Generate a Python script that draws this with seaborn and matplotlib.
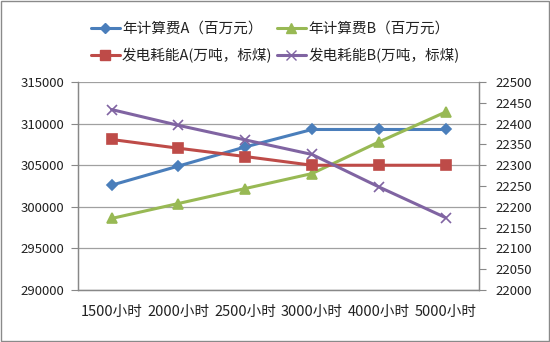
import matplotlib
matplotlib.use("Agg")
import matplotlib.pyplot as plt
import seaborn as sns
from matplotlib.lines import Line2D
from matplotlib.patches import Rectangle
from matplotlib.ticker import FixedLocator, MultipleLocator

sns.set_theme(style="white")
plt.rcParams["font.family"] = ["Noto Sans CJK SC", "DejaVu Sans"]

hours = ["1500小时", "2000小时", "2500小时", "3000小时", "4000小时", "5000小时"]

# annual cost (left axis)
cost_a = [302600, 304900, 307200, 309300, 309300, 309300]
cost_b = [298600, 300400, 302200, 304000, 307800, 311400]

# generation coal consumption (right axis)
coal_a = [22362, 22341, 22321, 22300, 22300, 22300]
coal_b = [22434, 22396, 22361, 22326, 22248, 22174]

labels = ["年计算费A（百万元）", "年计算费B（百万元）",
          "发电耗能A(万吨，标煤)", "发电耗能B(万吨，标煤)"]
colors = ["#4A7EBB", "#98B954", "#BE4B48", "#8064A2"]
markers = ["D", "^", "s", "x"]
msizes = [5.5, 7.5, 7.5, 7.5]

fig = plt.figure(figsize=(5.5, 3.42), dpi=100)
ax1 = fig.add_axes([0.142, 0.152, 0.729, 0.608])
ax2 = ax1.twinx()

series = [(ax1, cost_a), (ax1, cost_b), (ax2, coal_a), (ax2, coal_b)]
for (ax, vals), lab, c, m, ms in zip(series, labels, colors, markers, msizes):
    sns.lineplot(x=hours, y=vals, ax=ax, color=c, marker=m, markersize=ms,
                 markeredgecolor=c, markerfacecolor=c, markeredgewidth=1.2,
                 linewidth=2.2, sort=False, legend=False)

ax1.set_xlim(-0.5, 5.5)
ax1.set_ylim(290000, 315000)
ax1.yaxis.set_major_locator(MultipleLocator(5000))
ax2.set_ylim(22000, 22500)
ax2.yaxis.set_major_locator(MultipleLocator(50))

ax1.set_xticks(range(len(hours)))
ax1.set_xticklabels(hours)
ax1.xaxis.set_minor_locator(FixedLocator([i - 0.5 for i in range(len(hours) + 1)]))
ax1.tick_params(axis="x", which="major", length=0, pad=11, labelsize=10.5, colors="#222222")
ax1.tick_params(axis="x", which="minor", length=4, width=0.8, color="#888888", direction="out")
ax1.tick_params(axis="y", length=5, width=0.8, color="#888888", pad=5,
                labelsize=9.5, labelcolor="#222222", left=True, direction="out")
ax2.tick_params(axis="y", length=5, width=0.8, color="#888888", pad=7,
                labelsize=9.5, labelcolor="#222222", right=True, direction="out")

ax1.grid(axis="y", color="#a0a0a0", linewidth=0.9)
ax1.grid(axis="x", visible=False)
ax2.grid(False)
ax1.set_xlabel("")
ax1.set_ylabel("")
ax2.set_ylabel("")

for ax in (ax1, ax2):
    ax.spines["top"].set_visible(False)
    for s in ("left", "right", "bottom"):
        ax.spines[s].set_color("#888888")
        ax.spines[s].set_linewidth(0.9)

ax1.set_zorder(ax2.get_zorder() - 1)
ax2.patch.set_visible(False)

handles = []
order = [0, 2, 1, 3]
for i in order:
    handles.append(Line2D([], [], color=colors[i], marker=markers[i], markersize=msizes[i],
                          markerfacecolor=colors[i], markeredgecolor=colors[i],
                          linewidth=2.2, label=labels[i]))
fig.legend(handles=handles, loc="upper center", bbox_to_anchor=(0.5, 0.975), ncol=2,
           frameon=False, fontsize=10.5, handlelength=2.0, handletextpad=0.15,
           columnspacing=0.3, labelspacing=0.85, labelcolor="#222222")

fig.patches.append(Rectangle((0.002, 0.003), 0.996, 0.994, transform=fig.transFigure,
                             fill=False, edgecolor="#8a8a8a", linewidth=1.0))

fig.savefig("out.png", dpi=100, facecolor="white")
